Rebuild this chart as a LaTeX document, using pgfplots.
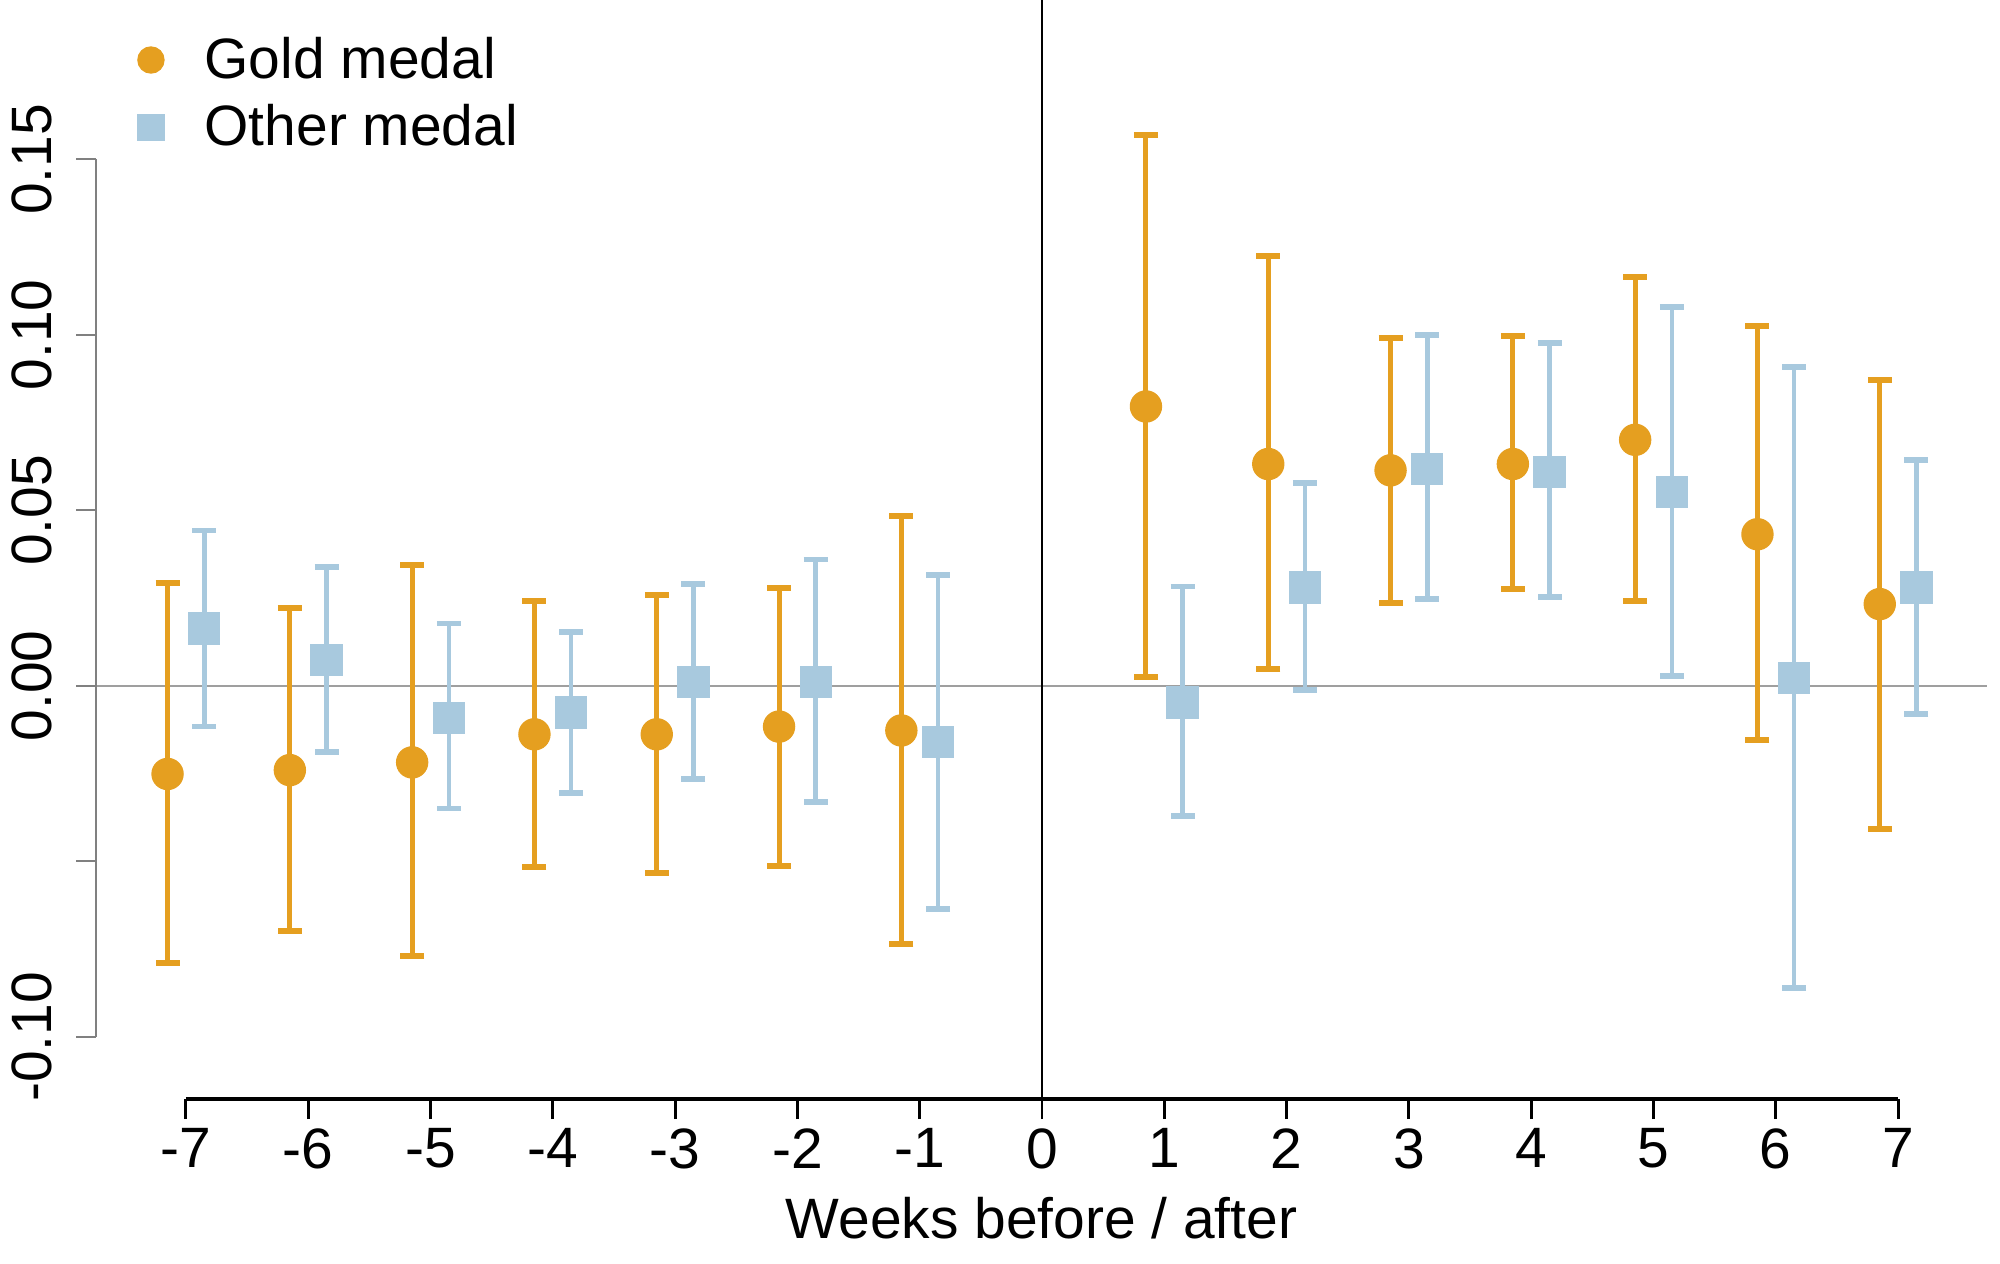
\documentclass[border=0pt]{standalone}
\usepackage{pgfplots}
\usepackage{pgfplotstable}
\pgfplotsset{compat=1.18}
\usepackage{fontspec}
\setmainfont{Liberation Sans}
\definecolor{gold}{RGB}{229,159,32}
\definecolor{lblue}{RGB}{168,201,222}

\pgfplotstableread{
week y lo hi
-7 -0.0251 -0.0789 0.0294
-6 -0.0240 -0.0698 0.0222
-5 -0.0218 -0.0770 0.0345
-4 -0.0138 -0.0516 0.0243
-3 -0.0138 -0.0534 0.0258
-2 -0.0116 -0.0512 0.0280
-1 -0.0127 -0.0734 0.0483
1 0.0796 0.0025 0.1570
2 0.0632 0.0047 0.1225
3 0.0614 0.0236 0.0992
4 0.0632 0.0276 0.0996
5 0.0701 0.0243 0.1166
6 0.0432 -0.0153 0.1025
7 0.0233 -0.0407 0.0872
}\gold

\pgfplotstableread{
week y lo hi
-7 0.0164 -0.0116 0.0443
-6 0.0073 -0.0189 0.0338
-5 -0.0091 -0.0349 0.0178
-4 -0.0076 -0.0305 0.0153
-3 0.0011 -0.0265 0.0291
-2 0.0011 -0.0331 0.0360
-1 -0.0160 -0.0636 0.0316
1 -0.0047 -0.0371 0.0283
2 0.0280 -0.0011 0.0578
3 0.0618 0.0247 0.0999
4 0.0610 0.0254 0.0977
5 0.0552 0.0029 0.1079
6 0.0022 -0.0861 0.0908
7 0.0280 -0.0080 0.0643
}\other

\begin{document}
\begin{tikzpicture}
\begin{axis}[
  name=ax,
  scale only axis, width=18.91cm, height=10.99cm,
  xmin=-7.735, xmax=7.727, ymin=-0.1177, ymax=0.1954,
  axis x line*=bottom, axis y line*=left,
  axis line style={draw=none,-},
  xtick={-7,-6,-5,-4,-3,-2,-1,0,1,2,3,4,5,6,7},
  xticklabels={-7,-6,-5,-4,-3,-2,-1,0,1,2,3,4,5,6,7},
  ytick={-0.10,-0.05,0,0.05,0.10,0.15},
  yticklabels={-0.10,,0.00,0.05,0.10,0.15},
  tick align=outside, major tick length=0.2cm,
  x tick style={black, line width=0.8pt},
  y tick style={gray, line width=0.6pt},
  ticklabel style={font=\fontsize{16.2}{18}\selectfont},
  yticklabel style={rotate=90, anchor=south, inner sep=6.5pt},
  xticklabel style={anchor=north, inner sep=2.5pt},
  xlabel={Weeks before / after},
  xlabel style={font=\fontsize{16.2}{18}\selectfont, yshift=-2pt},
  clip=false,
  legend style={at={(rel axis cs:0,1)}, anchor=north west, xshift=0.3cm, yshift=-0.22cm,
    draw=none, fill=none, font=\fontsize{16.2}{18}\selectfont, row sep=0.07cm,
    /tikz/every odd column/.append style={column sep=0.33cm}},
  legend cell align=left,
]
\draw[gray!75, line width=0.6pt] (axis cs:-7.735,0) -- (axis cs:7.727,0);
\draw[black, line width=0.6pt] (axis cs:0,-0.1177) -- (axis cs:0,0.1954);
\draw[black, line width=0.9pt] (axis cs:-7,-0.1177) -- (axis cs:7,-0.1177);
\draw[gray, line width=0.6pt] (axis cs:-7.735,-0.10) -- (axis cs:-7.735,0.15);

\addplot[only marks, mark=*, mark size=0.155cm, color=gold,
  mark options={fill=gold, draw=gold},
  legend image code/.code={\fill[gold] (0.13cm,0) circle (0.13cm);},
  error bars/.cd, y dir=both, y explicit,
  error bar style={line width=1.4pt, gold},
  error mark options={rotate=90, mark size=0.12cm, line width=1.7pt, gold}]
  table[x expr=\thisrow{week}-0.15, y=y,
        y error plus expr=\thisrow{hi}-\thisrow{y},
        y error minus expr=\thisrow{y}-\thisrow{lo}] {\gold};
\addlegendentry{Gold medal}

\addplot[only marks, mark=square*, mark size=0.155cm, color=lblue,
  mark options={fill=lblue, draw=lblue},
  legend image code/.code={\fill[lblue] (0,-0.13cm) rectangle (0.26cm,0.13cm);},
  error bars/.cd, y dir=both, y explicit,
  error bar style={line width=1.3pt, lblue},
  error mark options={rotate=90, mark size=0.12cm, line width=1.6pt, lblue}]
  table[x expr=\thisrow{week}+0.15, y=y,
        y error plus expr=\thisrow{hi}-\thisrow{y},
        y error minus expr=\thisrow{y}-\thisrow{lo}] {\other};
\addlegendentry{Other medal}
\end{axis}
\pgfresetboundingbox
\path[use as bounding box] ([shift={(-0.96cm,-1.64cm)}]ax.south west) rectangle ([shift={(0.13cm,0cm)}]ax.north east);
\end{tikzpicture}
\end{document}
